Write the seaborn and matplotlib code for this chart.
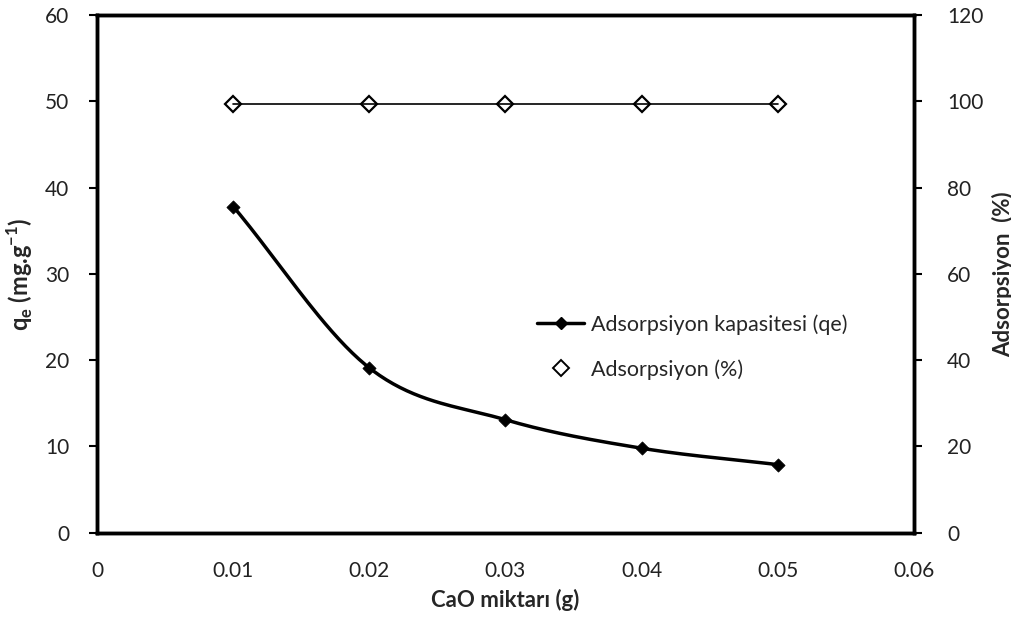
import numpy as np
import pandas as pd
import matplotlib
matplotlib.use("Agg")
import matplotlib.pyplot as plt
import seaborn as sns
from matplotlib.lines import Line2D

cao = [0.01, 0.02, 0.03, 0.04, 0.05]
qe = [37.8, 19.1, 13.1, 9.8, 7.9]
adsorption = [99.4, 99.4, 99.4, 99.4, 99.4]

x_ticks = [0, 0.01, 0.02, 0.03, 0.04, 0.05, 0.06]
x_labels = ["0", "0.01", "0.02", "0.03", "0.04", "0.05", "0.06"]

sns.set_style("white")
plt.rcParams['font.family'] = ['Lato', 'DejaVu Sans']


def catmull_rom(xs, ys, n=40):
    xs = np.asarray(xs, float)
    ys = np.asarray(ys, float)
    px = np.concatenate([[2 * xs[0] - xs[1]], xs, [2 * xs[-1] - xs[-2]]])
    py = np.concatenate([[2 * ys[0] - ys[1]], ys, [2 * ys[-1] - ys[-2]]])
    ox, oy = [], []
    t = np.linspace(0, 1, n, endpoint=False)
    for i in range(1, len(px) - 2):
        for arr, out in ((px, ox), (py, oy)):
            p0, p1, p2, p3 = arr[i - 1], arr[i], arr[i + 1], arr[i + 2]
            out.extend(0.5 * ((2 * p1) + (-p0 + p2) * t
                              + (2 * p0 - 5 * p1 + 4 * p2 - p3) * t ** 2
                              + (-p0 + 3 * p1 - 3 * p2 + p3) * t ** 3))
    ox.append(xs[-1]); oy.append(ys[-1])
    return np.array(ox), np.array(oy)


fig = plt.figure(figsize=(10.12, 6.21), dpi=100)
ax = fig.add_axes([0.096, 0.142, 0.807, 0.834])
ax2 = ax.twinx()

sx, sy = catmull_rom(cao, qe)
smooth = pd.DataFrame({"x": sx, "y": sy})
pts = pd.DataFrame({"x": cao, "qe": qe, "ads": adsorption})

sns.lineplot(data=smooth, x="x", y="y", ax=ax, color="black", lw=2.5, sort=False)
sns.scatterplot(data=pts, x="x", y="qe", ax=ax, marker="D", s=45, color="black",
                edgecolor="black", zorder=5)

sns.lineplot(data=pts, x="x", y="ads", ax=ax2, color="black", lw=1.2,
             marker="D", markersize=8, markerfacecolor="none",
             markeredgecolor="black", markeredgewidth=1.6)

ax.set_xlim(0, 0.06)
ax.set_ylim(0, 60)
ax2.set_ylim(0, 120)
ax.set_xticks(x_ticks)
ax.set_xticklabels(x_labels)
ax.set_yticks(range(0, 61, 10))
ax2.set_yticks(range(0, 121, 20))

for a in (ax, ax2):
    for s in a.spines.values():
        s.set_color("black")
        s.set_linewidth(2.5)
    a.tick_params(axis="both", direction="out", length=6, width=1.5,
                  labelsize=15, color="black", labelcolor="#222222", pad=14)
ax.tick_params(axis="x", labelsize=15, pad=14)
ax2.tick_params(axis="y", pad=18)

ax.set_xlabel("CaO miktarı (g)", fontsize=16, fontweight="bold", labelpad=6)
ax.set_ylabel(r"q$_\mathregular{e}$ (mg.g$^\mathregular{-1}$)", fontsize=17,
              fontweight="bold", labelpad=7)
ax2.set_ylabel("Adsorpsiyon  (%)", fontsize=16, fontweight="bold", labelpad=6)

handles = [
    Line2D([0], [0], color="black", lw=2.5, marker="D", markersize=6),
    Line2D([0], [0], color="none", marker="D", markersize=8,
           markerfacecolor="none", markeredgecolor="black", markeredgewidth=1.4),
]
ax2.legend(handles, ["Adsorpsiyon kapasitesi (qe)", "Adsorpsiyon (%)"],
           loc="upper left", bbox_to_anchor=(0.515, 0.46), frameon=False,
           fontsize=15.5, handlelength=2.2, labelspacing=1.15, handletextpad=0.3)
ax.grid(False); ax2.grid(False)

fig.savefig("out.png", dpi=100)
